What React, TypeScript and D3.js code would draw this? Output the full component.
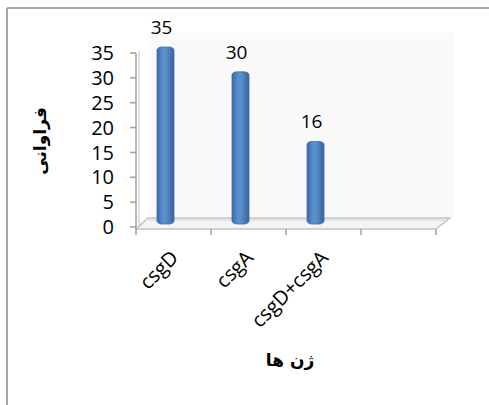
import React from "react";
import * as d3 from "d3";

const categories = ["csgD", "csgA", "csgD+csgA", ""];
const values: (number | null)[] = [35, 30, 16, null];
const yTicks = [0, 5, 10, 15, 20, 25, 30, 35];
const yTitle = "فراوانی";
const xTitle = "ژن ها";

export default function App() {
  const W = 489, H = 405;
  const x0 = 136, x1 = 436, yTop = 53, yBot = 227;
  const depthX = 12, depthY = -11;
  const x = d3.scaleBand<string>().domain(categories.map((c, i) => i + "")).range([x0, x1]).padding(0);
  const y = d3.scaleLinear().domain([0, 35]).range([yBot, yTop]);
  const font = "'Open Sans', 'Noto Sans', sans-serif";
  const barW = 17;
  const floorY = yBot + 2;
  return (
    <svg width={W} height={H} style={{ position: "absolute", left: 0, top: 0 }}>
      <defs>
        <linearGradient id="cyl" x1="0" x2="1" y1="0" y2="0">
          <stop offset="0" stopColor="#3b6aa3" />
          <stop offset="0.35" stopColor="#5b8fcf" />
          <stop offset="0.55" stopColor="#5a8dcc" />
          <stop offset="1" stopColor="#36629a" />
        </linearGradient>
      </defs>
      <rect x={0} y={0} width={W} height={H} fill="#fff" />
      {/* outer border */}
      <line x1={7} y1={8} x2={W} y2={8} stroke="#a6a6a6" strokeWidth={2} />
      <line x1={7} y1={8} x2={7} y2={H} stroke="#a6a6a6" strokeWidth={2} />
      {/* back wall */}
      <rect x={x0 + depthX} y={yTop - 20} width={x1 - x0 + 6} height={floorY + depthY - (yTop - 20)} fill="#fafafa" />
      {/* side wall */}
      <line x1={x0 + 3} y1={yTop - 2} x2={x0 + 3} y2={floorY - 2} stroke="#e0e0e0" strokeWidth={2} />
      {/* floor */}
      <path
        d={`M${x0},${floorY} L${x1},${floorY} L${x1 + depthX + 2},${floorY + depthY} L${x0 + depthX},${floorY + depthY} Z`}
        fill="#f4f4f4"
        stroke="#c4c4c4"
        strokeWidth={1.5}
      />
      <line x1={x0 + depthX} y1={floorY + depthY + 2} x2={x1 + depthX - 2} y2={floorY + depthY + 2} stroke="#dcdcdc" strokeWidth={1.5} />
      {/* y axis */}
      <line x1={x0} y1={yTop} x2={x0} y2={floorY} stroke="#a0a0a0" strokeWidth={1.5} />
      {yTicks.map((t) => (
        <g key={t}>
          <line x1={x0 - 6} x2={x0} y1={y(t)} y2={y(t)} stroke="#a0a0a0" strokeWidth={1.5} />
          <text x={x0 - 22} y={y(t)} dy="0.36em" textAnchor="end" fontFamily={font} fontSize={20} fill="#000">
            {t}
          </text>
        </g>
      ))}
      {/* x ticks */}
      {[...categories.map((c, i) => x(i + "") as number), x1].map((px, i) => (
        <line key={i} x1={px} x2={px} y1={floorY} y2={floorY + 6} stroke="#a0a0a0" strokeWidth={1.5} />
      ))}
      {/* bars */}
      {values.map((v, i) => {
        if (v == null) return null;
        const cx = (x(i + "") as number) + x.bandwidth() / 2 - 8;
        const top = y(v) - 6;
        const bot = y(0) - 3;
        return (
          <g key={i}>
            <rect x={cx - barW / 2} y={top} width={barW} height={bot - top} rx={5} ry={3} fill="url(#cyl)" stroke="#3f6fa8" strokeWidth={0.8} />
            <text x={cx - 4} y={top - 13} textAnchor="middle" fontFamily={font} fontSize={19} fill="#000">
              {v}
            </text>
          </g>
        );
      })}
      {/* x labels */}
      {categories.map((c, i) =>
        c ? (
          <text
            key={i}
            transform={`translate(${(x(i + "") as number) + x.bandwidth() / 2 + 6},${floorY + 30}) rotate(-45)`}
            textAnchor="end"
            fontFamily={font}
            fontSize={20}
            fill="#000"
          >
            {c}
          </text>
        ) : null
      )}
      {/* axis titles */}
      <text
        transform={`translate(46,141) rotate(-90)`}
        textAnchor="middle"
        fontFamily="'DejaVu Sans', 'Noto Sans', sans-serif"
        fontWeight="bold"
        fontSize={17}
        fill="#000"
      >
        {yTitle}
      </text>
      <text x={290} y={366} textAnchor="middle" fontFamily="'DejaVu Sans', 'Noto Sans', sans-serif" fontWeight="bold" fontSize={17} fill="#000">
        {xTitle}
      </text>
    </svg>
  );
}
